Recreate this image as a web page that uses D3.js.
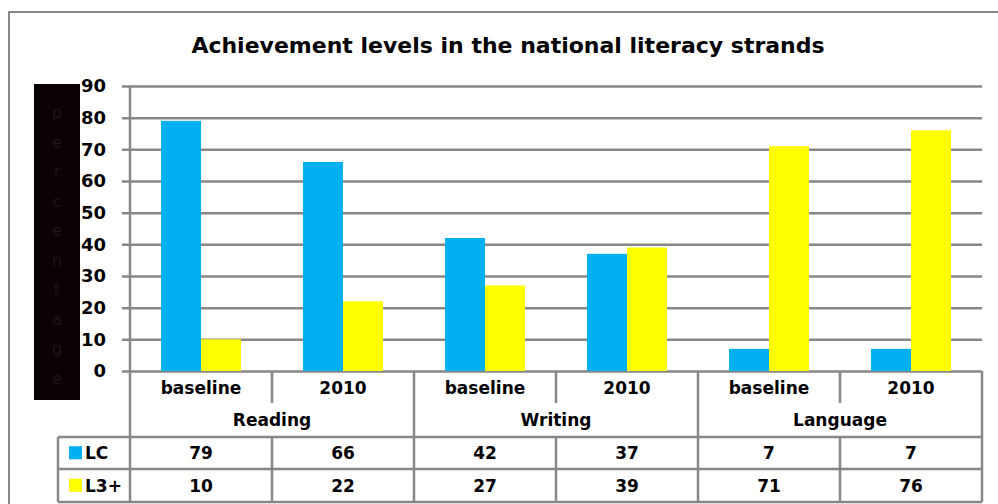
<!DOCTYPE html>
<html>
<head>
<meta charset="utf-8">
<script src="https://cdn.jsdelivr.net/npm/d3@7"></script>
<style>
  body { margin: 0; background: #fff; }
  text { font-family: "DejaVu Sans", Verdana, sans-serif; font-weight: bold; fill: #000; }
</style>
</head>
<body>
<div id="chart-area"></div>
<script>
// data
var groups = ["Reading", "Writing", "Language"];
var periods = ["baseline", "2010"];
var seriesNames = ["LC", "L3+"];
var lcValues = [79, 66, 42, 37, 7, 7];
var l3Values = [10, 22, 27, 39, 71, 76];
var yTicks = [0, 10, 20, 30, 40, 50, 60, 70, 80, 90];
var axisLetters = "percentage".split("");

var colors = { "LC": "#00b0f0", "L3+": "#ffff00" };
var lineColor = "#878787";

var categories = [];
groups.forEach(function(g) {
  periods.forEach(function(p) { categories.push({ group: g, period: p }); });
});
var data = categories.map(function(c, i) {
  return { key: i, group: c.group, period: c.period, "LC": lcValues[i], "L3+": l3Values[i] };
});

var width = 998, height = 504;
var plotLeft = 130, plotRight = 982, plotTop = 86, plotBottom = 371;

var svg = d3.select("#chart-area")
  .append("svg")
  .attr("width", width)
  .attr("height", height);

// outer frame
svg.append("rect")
  .attr("x", 9).attr("y", 12)
  .attr("width", 1000).attr("height", 520)
  .attr("fill", "none")
  .attr("stroke", lineColor)
  .attr("stroke-width", 2);

svg.append("text")
  .attr("x", 508).attr("y", 53)
  .attr("text-anchor", "middle")
  .style("font-size", "22px")
  .text("Achievement levels in the national literacy strands");

var x = d3.scaleBand()
  .domain(data.map(function(d) { return d.key; }))
  .range([plotLeft, plotRight]);

var xInner = d3.scaleBand()
  .domain(seriesNames)
  .range([0, 80]);

var y = d3.scaleLinear()
  .domain([0, 90])
  .range([plotBottom, plotTop]);

// black label box with dark letters
svg.append("rect")
  .attr("x", 34).attr("y", 84)
  .attr("width", 46).attr("height", 316)
  .attr("fill", "#0b0205");

svg.selectAll(".ylab")
  .data(axisLetters)
  .enter()
  .append("text")
  .attr("x", 57)
  .attr("y", function(d, i) { return 118 + i * 29.5; })
  .attr("text-anchor", "middle")
  .style("font-size", "16px")
  .style("font-weight", "normal")
  .style("fill", "#1e1618")
  .text(function(d) { return d; });

// gridlines + ticks
var yAxis = d3.axisLeft(y)
  .tickValues(yTicks)
  .tickSize(-(plotRight - plotLeft) - 8)
  .tickPadding(8);

var gy = svg.append("g")
  .attr("transform", "translate(" + plotRight + ",0)")
  .call(yAxis);

gy.select(".domain").remove();
gy.selectAll(".tick line")
  .attr("x2", -(plotRight - plotLeft) - 8)
  .attr("stroke", lineColor)
  .attr("stroke-width", 2.5);
gy.selectAll(".tick text")
  .attr("x", -(plotRight - plotLeft) - 24)
  .attr("text-anchor", "end")
  .style("font-size", "18px")
  .style("font-family", "DejaVu Sans, sans-serif")
  .style("font-weight", "bold")
  .style("fill", "#000");

// bars
var bars = svg.selectAll(".cat")
  .data(data)
  .enter()
  .append("g")
  .attr("transform", function(d) { return "translate(" + (x(d.key) + (x.bandwidth() - 80) / 2) + ",0)"; });

bars.selectAll("rect")
  .data(function(d) { return seriesNames.map(function(s) { return { name: s, value: d[s] }; }); })
  .enter()
  .append("rect")
  .attr("x", function(d) { return xInner(d.name); })
  .attr("y", function(d) { return y(d.value); })
  .attr("width", xInner.bandwidth())
  .attr("height", function(d) { return plotBottom - y(d.value); })
  .attr("fill", function(d) { return colors[d.name]; });

// vertical axis line
var tableBottom = 502, rowTop = 437, rowMid = 469;
svg.append("line")
  .attr("x1", plotLeft).attr("x2", plotLeft)
  .attr("y1", plotTop).attr("y2", tableBottom)
  .attr("stroke", lineColor).attr("stroke-width", 2.5);

// category header
svg.selectAll(".period")
  .data(data)
  .enter()
  .append("text")
  .attr("x", function(d) { return x(d.key) + x.bandwidth() / 2; })
  .attr("y", 394)
  .attr("text-anchor", "middle")
  .style("font-size", "17px")
  .text(function(d) { return d.period; });

svg.selectAll(".group")
  .data(groups)
  .enter()
  .append("text")
  .attr("x", function(d, i) { return x(i * 2) + x.bandwidth(); })
  .attr("y", 426)
  .attr("text-anchor", "middle")
  .style("font-size", "17px")
  .text(function(d) { return d; });

// separators in the header
var sep = svg.append("g")
  .attr("stroke", lineColor)
  .attr("stroke-width", 2.5);

data.forEach(function(d, i) {
  if (i === 0) return;
  var xx = x(d.key);
  sep.append("line")
    .attr("x1", xx).attr("x2", xx)
    .attr("y1", plotBottom)
    .attr("y2", i % 2 === 0 ? rowTop : 403);
});
sep.append("line")
  .attr("x1", plotRight).attr("x2", plotRight)
  .attr("y1", plotBottom).attr("y2", tableBottom);

// data table
var tableLeft = 58;
[rowTop, rowMid, tableBottom].forEach(function(yy) {
  sep.append("line")
    .attr("x1", tableLeft).attr("x2", plotRight)
    .attr("y1", yy).attr("y2", yy);
});
sep.append("line")
  .attr("x1", tableLeft).attr("x2", tableLeft)
  .attr("y1", rowTop).attr("y2", tableBottom);
data.forEach(function(d, i) {
  if (i === 0) return;
  sep.append("line")
    .attr("x1", x(d.key)).attr("x2", x(d.key))
    .attr("y1", rowTop).attr("y2", tableBottom);
});

var rowY = d3.scaleBand()
  .domain(seriesNames)
  .range([rowTop, tableBottom]);

seriesNames.forEach(function(s) {
  var cy = rowY(s) + rowY.bandwidth() / 2;
  svg.append("rect")
    .attr("x", 69).attr("y", cy - 7)
    .attr("width", 13).attr("height", 13)
    .attr("fill", colors[s]);
  svg.append("text")
    .attr("x", 85).attr("y", cy + 6)
    .style("font-size", "17px")
    .text(s);
  svg.selectAll(".val-" + s.replace("+", "p"))
    .data(data)
    .enter()
    .append("text")
    .attr("x", function(d) { return x(d.key) + x.bandwidth() / 2; })
    .attr("y", cy + 6)
    .attr("text-anchor", "middle")
    .style("font-size", "17px")
    .text(function(d) { return d[s]; });
});
</script>
</body>
</html>
